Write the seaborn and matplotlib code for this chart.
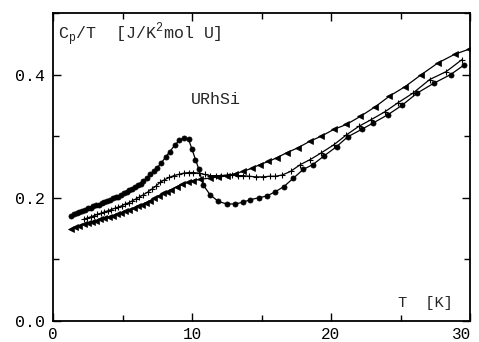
import matplotlib
matplotlib.use("Agg")
import matplotlib.pyplot as plt
import matplotlib.transforms as mtransforms
import seaborn as sns
import pandas as pd
from matplotlib.ticker import MultipleLocator

# --- data ---
T_circ = [1.3, 1.5, 1.7, 1.9, 2.1, 2.3, 2.5, 2.7, 2.9, 3.1, 3.3, 3.5, 3.7, 3.9, 4.1, 4.3, 4.5, 4.7, 4.9, 5.1,
          5.3, 5.5, 5.7, 5.9, 6.1, 6.3, 6.5, 6.75, 7.0, 7.25, 7.5, 7.8, 8.1, 8.4, 8.75, 9.1, 9.45, 9.75, 10.0,
          10.25, 10.5, 10.8, 11.3, 11.9, 12.5, 13.1, 13.7, 14.2, 14.8, 15.4, 16.0, 16.6, 17.3, 18.0, 18.7,
          19.5, 20.4, 21.2, 22.2, 23.0, 24.1, 25.1, 26.2, 27.4, 28.6, 29.6]
C_circ = [0.171, 0.173, 0.175, 0.177, 0.179, 0.181, 0.183, 0.184, 0.186, 0.188, 0.189, 0.191, 0.193, 0.195,
          0.197, 0.199, 0.201, 0.202, 0.204, 0.207, 0.209, 0.212, 0.214, 0.217, 0.220, 0.223, 0.227, 0.232,
          0.238, 0.243, 0.249, 0.257, 0.266, 0.275, 0.285, 0.294, 0.297, 0.295, 0.279, 0.262, 0.246, 0.221,
          0.205, 0.194, 0.190, 0.190, 0.193, 0.197, 0.200, 0.203, 0.210, 0.218, 0.232, 0.246, 0.254, 0.268,
          0.283, 0.299, 0.311, 0.321, 0.335, 0.350, 0.370, 0.386, 0.400, 0.416]

T_tri = [1.3, 1.6, 1.9, 2.2, 2.5, 2.8, 3.1, 3.4, 3.7, 4.0, 4.3, 4.6, 4.9, 5.2, 5.5, 5.8, 6.1, 6.4, 6.7, 7.0,
         7.3, 7.6, 7.9, 8.2, 8.5, 8.9, 9.3, 9.7, 10.1, 10.6, 11.3, 11.9, 12.5, 13.1, 13.7, 14.3, 14.9, 15.5,
         16.1, 16.8, 17.6, 18.5, 19.3, 20.2, 21.1, 22.1, 23.2, 24.2, 25.3, 26.5, 27.7, 28.9, 29.9]
C_tri = [0.150, 0.152, 0.155, 0.157, 0.159, 0.161, 0.163, 0.165, 0.167, 0.169, 0.171, 0.173, 0.175, 0.178,
         0.180, 0.183, 0.186, 0.189, 0.192, 0.195, 0.199, 0.203, 0.207, 0.210, 0.213, 0.218, 0.222, 0.225,
         0.228, 0.230, 0.232, 0.234, 0.236, 0.239, 0.243, 0.248, 0.254, 0.259, 0.265, 0.273, 0.281, 0.292,
         0.300, 0.311, 0.319, 0.332, 0.348, 0.365, 0.380, 0.400, 0.419, 0.433, 0.441]

T_plus = [2.2, 2.45, 2.7, 2.95, 3.2, 3.45, 3.7, 3.95, 4.2, 4.45, 4.7, 4.95, 5.2, 5.45, 5.7, 5.95, 6.2, 6.5,
          6.8, 7.1, 7.4, 7.7, 8.0, 8.35, 8.7, 9.05, 9.4, 9.75, 10.1, 10.5, 10.9, 11.3, 11.7, 12.1, 12.5, 12.9,
          13.3, 13.7, 14.1, 14.6, 15.1, 15.6, 16.0, 16.5, 17.1, 17.8, 18.5, 19.3, 20.2, 21.1, 22.0, 22.9,
          23.9, 24.8, 25.9, 27.1, 28.3, 29.4]
C_plus = [0.165, 0.167, 0.169, 0.171, 0.173, 0.175, 0.177, 0.179, 0.181, 0.183, 0.185, 0.187, 0.190, 0.192,
          0.195, 0.198, 0.201, 0.205, 0.209, 0.214, 0.219, 0.225, 0.229, 0.233, 0.236, 0.238, 0.240, 0.241,
          0.241, 0.240, 0.238, 0.236, 0.236, 0.236, 0.237, 0.237, 0.236, 0.236, 0.235, 0.234, 0.234, 0.235,
          0.235, 0.237, 0.243, 0.254, 0.262, 0.273, 0.286, 0.302, 0.316, 0.327, 0.340, 0.354, 0.370, 0.392,
          0.405, 0.424]

x_ticks = [0, 10, 20, 30]
y_ticks = [0.0, 0.2, 0.4]
y_tick_labels = ["0.0", "0.2", "0.4"]

sns.set_style("ticks")
plt.rcParams['font.family'] = ['Liberation Mono', 'DejaVu Sans Mono', 'DejaVu Sans']
plt.rcParams['mathtext.fontset'] = 'custom'
plt.rcParams['mathtext.rm'] = 'Liberation Mono'

fig = plt.figure(figsize=(4.79, 3.42), dpi=100)
ax = fig.add_axes([53/479, 21/342, 417/479, 308/342])

common = dict(color="black", linewidth=0.9, sort=False, estimator=None, ax=ax)
sns.lineplot(x=T_circ, y=C_circ, marker="o", markersize=3.6, markeredgecolor="black",
             markerfacecolor="black", markeredgewidth=0.6, **common)
sns.lineplot(x=T_tri, y=C_tri, marker="<", markersize=4.2, markeredgecolor="black",
             markerfacecolor="black", markeredgewidth=0.5, **common)
sns.lineplot(x=T_plus, y=C_plus, marker="+", markersize=5, markeredgecolor="black",
             markeredgewidth=0.8, **common)

ax.set_xlim(0, 30)
ax.set_ylim(0, 0.5)
ax.set_xticks(x_ticks)
ax.set_yticks(y_ticks)
ax.set_yticklabels(y_tick_labels)
ax.xaxis.set_minor_locator(MultipleLocator(5))
ax.yaxis.set_minor_locator(MultipleLocator(0.1))
ax.tick_params(which="both", direction="in", top=True, right=True, width=1.0, labelsize=12, colors="black")
ax.tick_params(which="major", length=6)
ax.tick_params(which="minor", length=4)
ax.tick_params(axis="y", pad=6)
ax.tick_params(axis="x", pad=4, labelsize=11.5)
for s in ax.spines.values():
    s.set_linewidth(1.3)
    s.set_color("black")
    s.set_visible(True)

# keep the last x label inside the picture
fig.canvas.draw()
last = ax.get_xticklabels()[-1]
last.set_transform(last.get_transform() + mtransforms.ScaledTranslation(-8/100, 0, fig.dpi_scale_trans))

ax.set_xlabel("")
ax.set_ylabel("")
ax.text(0.012, 0.975, r"C$_\mathregular{p}$/T  [J/K$^\mathregular{2}$mol U]", transform=ax.transAxes,
        ha="left", va="top", fontsize=12)
ax.text(9.9, 0.36, "URhSi", ha="left", va="center", fontsize=12)
ax.text(24.8, 0.03, "T  [K]", ha="left", va="center", fontsize=11)

fig.savefig("out.png", dpi=100)
